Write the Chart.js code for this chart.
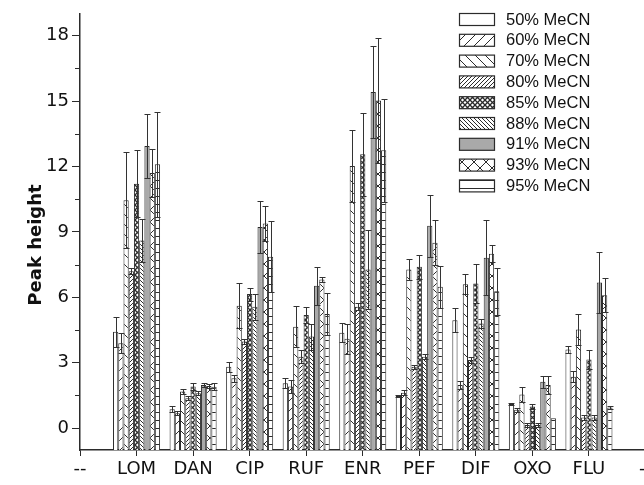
<!DOCTYPE html>
<html>
<head>
<meta charset="utf-8">
<script src="https://cdn.jsdelivr.net/npm/chart.js@4.4.1/dist/chart.umd.min.js"></script>
<style>
  html, body { margin: 0; padding: 0; background: #fff; width: 644px; height: 485px; overflow: hidden; }
  #wrap { width: 670px; height: 485px; }
</style>
</head>
<body>
<div id="wrap"><canvas id="c" width="670" height="485"></canvas></div>
<script>
// Categories on the x axis (empty end slots labelled "--")
const categories = ['--', 'LOM', 'DAN', 'CIP', 'RUF', 'ENR', 'PEF', 'DIF', 'OXO', 'FLU', '--'];
const seriesNames = ['50% MeCN', '60% MeCN', '70% MeCN', '80% MeCN', '85% MeCN', '88% MeCN', '91% MeCN', '93% MeCN', '95% MeCN'];

// Peak heights per acetonitrile content
const mecn50 = [null, 4.42, 0.87, 2.82, 2.06, 4.38, 1.48, 4.95, 1.11, 3.61, null];
const mecn60 = [null, 3.90, 0.69, 2.29, 1.91, 4.10, 1.63, 1.98, 0.84, 2.36, null];
const mecn70 = [null, 10.45, 1.68, 5.61, 4.65, 12.02, 7.28, 6.60, 1.55, 4.53, null];
const mecn80 = [null, 7.20, 1.37, 3.97, 3.28, 5.57, 2.82, 3.13, 0.15, 0.49, null];
const mecn85 = [null, 11.21, 1.91, 6.15, 5.19, 12.56, 7.40, 6.63, 0.99, 3.15, null];
const mecn88 = [null, 8.60, 1.60, 5.57, 4.20, 7.28, 3.28, 4.80, 0.15, 0.49, null];
const mecn91 = [null, 12.94, 1.98, 9.23, 6.53, 15.41, 9.28, 7.82, 2.13, 6.68, null];
const mecn93 = [null, 11.70, 1.94, 9.38, 6.82, 15.03, 8.50, 8.00, 1.98, 6.10, null];
const mecn95 = [null, 12.10, 1.90, 7.86, 5.23, 12.74, 6.48, 6.28, 0.46, 0.95, null];

// Standard deviations (± error bars)
const mecn50Err = [null, 0.69, 0.15, 0.23, 0.23, 0.43, 0.05, 0.54, 0.06, 0.17, null];
const mecn60Err = [null, 0.45, 0.08, 0.15, 0.30, 0.70, 0.12, 0.20, 0.10, 0.25, null];
const mecn70Err = [null, 2.21, 0.10, 1.03, 0.95, 1.66, 0.50, 0.46, 0.35, 0.70, null];
const mecn80Err = [null, 0.15, 0.10, 0.12, 0.30, 0.15, 0.10, 0.15, 0.10, 0.10, null];
const mecn85Err = [null, 1.53, 0.18, 0.30, 0.38, 1.90, 0.56, 0.89, 0.11, 0.43, null];
const mecn88Err = [null, 1.00, 0.10, 0.60, 0.60, 1.80, 0.10, 0.20, 0.10, 0.10, null];
const mecn91Err = [null, 1.48, 0.10, 1.19, 0.87, 2.10, 1.41, 1.71, 0.27, 1.39, null];
const mecn93Err = [null, 1.10, 0.10, 0.80, 0.12, 2.87, 1.03, 0.39, 0.42, 0.79, null];
const mecn95Err = [null, 2.40, 0.15, 1.63, 0.98, 2.36, 0.95, 1.08, 0.00, 0.05, null];

const yTickValues = [0, 3, 6, 9, 12, 15, 18];
const yMinorValues = [1.5, 4.5, 7.5, 10.5, 13.5, 16.5];

const values = [mecn50, mecn60, mecn70, mecn80, mecn85, mecn88, mecn91, mecn93, mecn95];
const errors = [mecn50Err, mecn60Err, mecn70Err, mecn80Err, mecn85Err, mecn88Err, mecn91Err, mecn93Err, mecn95Err];

const canvas = document.getElementById('c');
const mainCtx = canvas.getContext('2d');
const INK = '#2b2b2b';

// Hatch fill tiles
function tile(size, draw, bg) {
  const t = document.createElement('canvas');
  t.width = size; t.height = size;
  const g = t.getContext('2d');
  g.fillStyle = bg || '#ffffff';
  g.fillRect(0, 0, size, size);
  g.strokeStyle = INK;
  g.lineWidth = 1;
  draw(g, size);
  return mainCtx.createPattern(t, 'repeat');
}
function fwd(g, s) { g.beginPath(); for (const k of [-s, 0, s]) { g.moveTo(k, s); g.lineTo(k + s, 0); } g.stroke(); }
function back(g, s) { g.beginPath(); for (const k of [-s, 0, s]) { g.moveTo(k, 0); g.lineTo(k + s, s); } g.stroke(); }

const fills = [
  '#ffffff',
  tile(10, fwd),
  tile(10, back),
  tile(4, fwd),
  tile(5, (g, s) => { g.lineWidth = 1.3; fwd(g, s); back(g, s); }),
  tile(4, back),
  '#a9a9a9',
  tile(12, (g, s) => { fwd(g, s); back(g, s); }),
  tile(8, (g, s) => { g.beginPath(); g.moveTo(0, 4.5); g.lineTo(s, 4.5); g.stroke(); })
];

const datasets = values.map((v, i) => ({
  label: seriesNames[i],
  data: v,
  backgroundColor: fills[i],
  borderColor: INK,
  borderWidth: 1,
  base: -1,
  categoryPercentage: 0.832,
  barPercentage: 1.0
}));

// ± error bars drawn over the bars
const errorBars = {
  id: 'errorBars',
  afterDatasetsDraw(chart) {
    const g = chart.ctx, ys = chart.scales.y;
    g.save();
    g.strokeStyle = '#333';
    g.lineWidth = 1;
    chart.data.datasets.forEach((ds, i) => {
      const meta = chart.getDatasetMeta(i);
      meta.data.forEach((el, j) => {
        const v = ds.data[j], e = errors[i][j];
        if (v == null || !e) return;
        const x = Math.round(el.x) + 0.5;
        const yt = Math.round(ys.getPixelForValue(v + e)) + 0.5;
        const yb = Math.round(ys.getPixelForValue(v - e)) + 0.5;
        g.beginPath();
        g.moveTo(x, yt); g.lineTo(x, yb);
        g.moveTo(x - 3, yt); g.lineTo(x + 3, yt);
        g.moveTo(x - 3, yb); g.lineTo(x + 3, yb);
        g.stroke();
      });
    });
    g.restore();
  }
};

// Minor ticks on the value axis, y title and the legend
const decorations = {
  id: 'decorations',
  afterDraw(chart) {
    const g = chart.ctx, ys = chart.scales.y, area = chart.chartArea;
    g.save();
    g.strokeStyle = INK;
    g.lineWidth = 1;
    g.beginPath();
    yMinorValues.forEach(v => {
      const y = Math.round(ys.getPixelForValue(v)) + 0.5;
      g.moveTo(area.left - 5, y); g.lineTo(area.left, y);
    });
    g.stroke();

    g.fillStyle = '#111';
    g.font = 'bold 18px "DejaVu Sans", Verdana, sans-serif';
    g.textAlign = 'center';
    g.textBaseline = 'middle';
    g.translate(36, 245);
    g.rotate(-Math.PI / 2);
    g.fillText('Peak height', 0, 0);
    g.restore();

    g.save();
    g.font = '16.5px "Liberation Sans", Arial, sans-serif';
    g.textBaseline = 'middle';
    g.textAlign = 'left';
    seriesNames.forEach((name, i) => {
      const y = 13.5 + i * 20.8;
      g.fillStyle = fills[i];
      g.fillRect(459.5, y, 35, 12);
      g.strokeStyle = INK;
      g.lineWidth = 1.2;
      g.strokeRect(459.5, y, 35, 12);
      g.fillStyle = '#111';
      g.fillText(name, 506, y + 6.5);
    });
    g.restore();
  }
};

new Chart(canvas, {
  type: 'bar',
  data: { labels: categories, datasets },
  options: {
    responsive: false,
    animation: false,
    layout: { padding: { top: 13, right: 24.5, left: 0, bottom: 0 } },
    plugins: { legend: { display: false }, tooltip: { enabled: false } },
    scales: {
      x: {
        offset: false,
        grid: { offset: false, drawOnChartArea: false, drawTicks: true, tickLength: 6, color: INK },
        border: { display: true, color: INK, width: 1.5 },
        ticks: { autoSkip: false, maxRotation: 0, padding: 3, color: '#111',
                 font: { family: '"DejaVu Sans", Verdana, sans-serif', size: 18 } },
        afterFit(s) { s.height = 35; }
      },
      y: {
        min: -1,
        max: 19,
        afterBuildTicks(s) { s.ticks = yTickValues.map(v => ({ value: v })); },
        grid: { drawOnChartArea: false, drawTicks: true, tickLength: 8, color: INK },
        border: { display: true, color: INK, width: 1.5 },
        ticks: { padding: 3, color: '#111',
                 font: { family: '"DejaVu Sans", Verdana, sans-serif', size: 18 } },
        afterFit(s) { s.width = 80; }
      }
    }
  },
  plugins: [errorBars, decorations]
});
</script>
</body>
</html>
